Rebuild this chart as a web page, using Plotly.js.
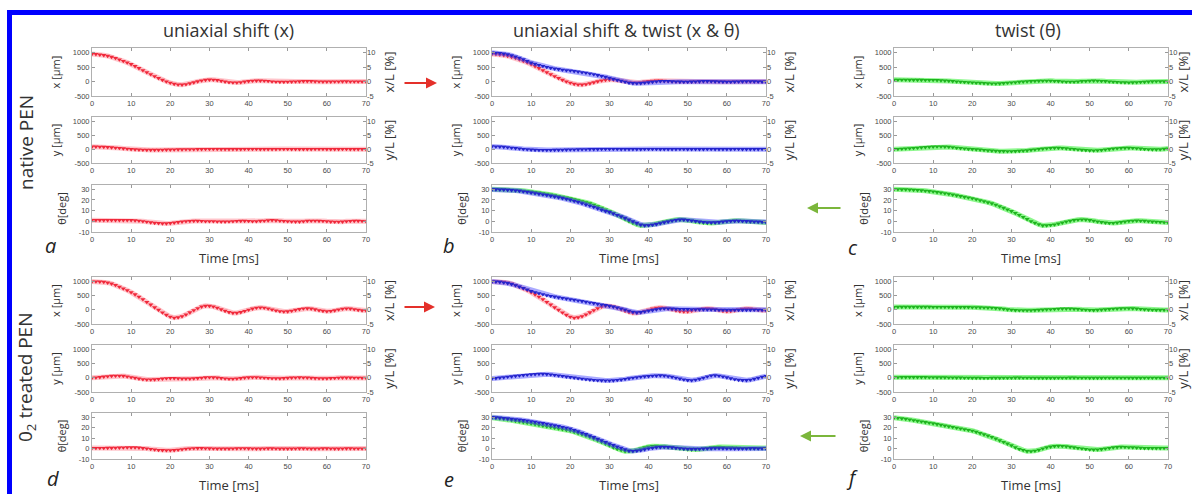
<!DOCTYPE html>
<html><head><meta charset="utf-8">
<script src="https://cdn.plot.ly/plotly-3.0.1.min.js"></script>
<style>html,body{margin:0;padding:0;background:#fff}#chart{width:1192px;height:494px}</style>
</head><body><div id="chart"></div>
<script>
// ---- data (time in ms, displacement in µm, angle in deg) ----
const timeMs = [0,1,2,3,4,5,6,7,8,9,10,11,12,13,14,15,16,17,18,19,20,21,22,23,24,25,26,27,28,29,30,31,32,33,34,35,36,37,38,39,40,41,42,43,44,45,46,47,48,49,50,51,52,53,54,55,56,57,58,59,60,61,62,63,64,65,66,67,68,69,70];

// native PEN, uniaxial shift (a)
const a_x = [950,945,930,910,885,850,810,760,710,655,600, 530,460,390,320,250,180,115,55,0,-45, -85,-105,-110,-95,-65,-30,5,35,55,65, 60,45,20,-5,-25,-35,-35,-25,-5,10, 25,30,30,25,15,0,-10,-15,-15,-10, -5,0,5,10,10,10,5,0,-5,-5, -5,0,0,5,5,0,0,0,0,0];
const a_y = [90,88,85,80,72,62,50,38,25,12,0, -10,-18,-24,-28,-30,-30,-28,-25,-22,-18, -15,-12,-10,-8,-6,-4,-2,0,2,3, 3,2,0,-2,-3,-3,-2,0,2,3, 3,2,0,-2,-3,-2,0,2,2,1, 0,-1,-2,-2,-1,0,1,2,1,0, -1,-1,0,1,1,0,0,-1,0,0];
const a_theta = [1,1,1,1,1,1,1,1,1,1,1, 0.8,0.5,0,-0.5,-1,-1.5,-1.8,-2,-2,-1.8, -1.3,-0.8,-0.3,0,0.2,0.3,0.3,0.2,0,0, 0,-0.2,-0.3,-0.3,-0.2,0,0.2,0.3,0.3,0.2, 0,0,0.3,0.5,0.8,1,0.8,0.5,0.2,0, -0.2,-0.3,-0.3,0,0.3,0.5,0.5,0.3,0.2,0, -0.3,-0.5,-0.5,-0.3,0,0.2,0.3,0.3,0.2,0];

// native PEN, shift & twist (b)
const b_x = [1000,995,985,965,940,905,865,820,770,710,650, 610,570,535,500,470,445,425,405,390,380, 360,340,320,300,275,250,220,190,160,125, 90,55,20,-10,-45,-55,-60,-55,-45,-30, -15,0,10,12,10,5,0,-5,-10,-10, -5,0,5,10,10,8,5,0,-5,-8, -8,-5,0,5,8,8,5,0,-3,-5];
const b_y = [100,95,88,78,65,50,35,20,5,-8,-20, -28,-33,-35,-35,-33,-30,-27,-24,-20,-17, -14,-11,-8,-5,-3,-1,0,1,2,2, 2,1,0,-1,-2,-2,-1,0,1,2, 2,1,0,-1,-2,-1,0,1,1,0, 0,-1,-1,0,1,1,0,-1,-1,0, 0,1,1,0,-1,-1,0,0,1,0];
const b_theta = [29.8,29.8,29.7,29.6,29.4,29.1,28.8,28.4,27.9,27.4,26.8, 26.2,25.6,25,24.4,23.7,23,22.3,21.6,20.8,20, 19,18,16.8,15.6,14.5,13.3,12,10.7,9.5,8.5, 7.2,5.9,4.6,3.2,1.5,0,-1.5,-3,-3.7,-3.7, -3.3,-2.7,-1.9,-1,-0.3,0.5,1.1,1.5,1.5,1.2, 0.7,0.2,-0.3,-0.7,-1,-1.1,-1,-0.8,-0.4,0, 0.2,0.3,0.3,0.2,0.1,0,-0.2,-0.4,-0.5,-0.6];

// native PEN, twist (c)
const c_x = [60,60,60,58,57,55,55,54,53,52,50, 45,38,30,20,10,0,-10,-20,-28,-35, -42,-50,-58,-65,-70,-70,-65,-55,-45,-35, -25,-15,-5,5,12,18,22,25,25,25, 18,10,0,-8,-10,-8,0,10,18,25, 28,25,18,10,0,-10,-20,-28,-33,-35, -33,-28,-20,-12,-5,2,6,6,4,0];
const c_y = [0,5,12,20,30,40,50,60,70,80,88, 92,92,88,78,65,50,35,20,8,0, -10,-22,-35,-48,-58,-66,-72,-76,-78,-78, -74,-67,-57,-45,-30,-14,2,18,30,40, 45,45,38,26,12,-2,-16,-30,-40,-48, -50,-44,-32,-16,0,15,30,40,45,44, 38,28,16,5,-4,-10,-10,-4,8,20];
const c_theta = [30,30,29.9,29.8,29.6,29.4,29.2,28.9,28.6,28.2,27.8, 27.3,26.8,26.2,25.6,24.9,24.2,23.5,22.8,22.2,21.5, 20.6,19.7,18.7,17.7,16.7,15.4,14,12.5,11,9.5, 7.7,5.9,4,2,0,-1.5,-2.8,-3.8,-3.8,-3.5, -3,-2.2,-1.3,-0.4,0.4,1,1.4,1.6,1.5,1.1, 0.5,-0.2,-0.8,-1.3,-1.6,-1.6,-1.3,-0.8,-0.3,0.2, 0.5,0.6,0.5,0.3,0,-0.3,-0.5,-0.7,-0.9,-1];

// O2 treated PEN, uniaxial shift (d)
const d_x = [1000,1000,995,985,960,925,875,815,750,690,620, 545,460,370,275,180,85,-5,-95,-180,-245, -280,-270,-230,-165,-90,-15,55,110,140,140, 115,70,15,-40,-85,-110,-110,-85,-45,0, 40,70,80,70,45,10,-25,-50,-60,-55, -35,-5,25,45,50,40,15,-15,-40,-50, -45,-20,10,35,45,40,20,-5,-20,-25];
const d_y = [0,10,25,40,55,65,70,72,65,45,20, -5,-30,-50,-60,-60,-55,-45,-30,-18,-10, -12,-20,-28,-32,-30,-22,-10,2,12,18, 15,5,-10,-25,-35,-35,-25,-10,5,15, 20,18,10,0,-8,-15,-20,-20,-12,-2, 5,10,12,10,5,-2,-10,-18,-22,-20, -14,-6,0,4,5,4,2,0,-2,-3];
const d_theta = [0.5,0.5,0.5,0.5,0.6,0.6,0.7,0.8,0.9,1,1, 1,0.8,0.4,0,-0.5,-1,-1.4,-1.6,-1.7,-1.7, -1.6,-1.2,-0.7,-0.3,0,0.2,0.3,0.3,0.2,0.1, 0,-0.1,-0.2,-0.2,-0.1,0,0.1,0.2,0.2,0.1, 0,-0.1,-0.1,0,0.1,0.1,0,-0.1,-0.2,-0.2, -0.1,0,0.1,0.1,0,-0.1,-0.1,0,0.1,0.1, 0,-0.1,-0.1,0,0.1,0.1,0,0,0,0];

// O2 treated PEN, shift & twist (e)
const e_x = [1000,995,985,965,940,905,865,820,770,715,660, 620,585,550,515,488,465,440,415,395,372, 350,328,305,280,256,235,210,185,165,140, 110,80,45,10,-35,-70,-93,-85,-60,-35, -10,15,35,45,46,40,32,26,23,22, 20,18,15,12,10,8,5,3,1,0, 0,0,-2,-3,-3,-2,0,1,1,0];
const e_y = [-20,-10,5,20,35,50,65,80,95,108,120, 130,138,138,130,115,98,80,62,42,24, 5,-15,-35,-52,-66,-78,-87,-93,-96,-95, -90,-80,-65,-45,-22,0,20,38,50,60, 70,78,83,75,55,30,0,-30,-60,-83, -88,-70,-40,0,45,80,83,70,45,15, -20,-50,-72,-83,-83,-70,-40,-5,30,60];
const e_theta = [30,29.8,29.5,29.2,28.8,28.4,28,27.6,27.1,26.6,26, 25.4,24.8,24.2,23.5,22.8,22.1,21.4,20.6,19.8,19, 17.7,16.4,15,13.7,12.3,10.8,9.3,7.8,6.2,4.7, 3.2,1.8,0.6,-0.8,-2,-2.4,-2.2,-1.7,-0.9,0, 0.5,1,1.3,1.4,1.3,1,0.6,0.2,-0.1,-0.3, -0.4,-0.4,-0.3,-0.2,0,0.1,0.2,0.2,0.1,0, 0,-0.1,-0.1,0,0,0.1,0.1,0,0,0];

// O2 treated PEN, twist (f)
const f_x = [100,102,103,104,104,104,103,102,102,101,100, 100,99,98,97,96,95,94,93,92,90, 88,86,82,77,70,60,48,33,15,0, -10,-15,-18,-18,-15,-10,-3,5,12,20, 28,35,40,42,40,33,22,10,0,-8, -10,-5,5,15,25,35,42,48,52,52, 48,40,28,15,5,0,-3,-5,-5,-3];
const f_y = [20,20,22,24,25,25,24,23,22,20,18, 16,14,12,10,8,6,4,2,0,-2, -4,-5,-6,-6,-5,-4,-2,0,2,3, 4,4,3,2,0,-2,-3,-4,-4,-3, -2,0,2,3,4,4,3,1,0,-2, -3,-3,-2,0,2,3,3,2,0,-2, -3,-3,-2,0,1,2,2,1,0,0];
const f_theta = [29.5,29.2,28.8,28.3,27.7,27,26.4,25.8,25.2,24.6,24, 23.3,22.6,21.9,21.2,20.5,19.8,19.1,18.4,17.7,17, 15.9,14.7,13.5,12.3,11,9.4,7.8,6.2,4.6,3, 1,-0.5,-1.5,-2.5,-2.6,-2.2,-1.3,0,1,1.8, 2.3,2.5,2.4,2,1.5,1,0.5,0,-0.5,-1, -1.1,-1,-0.6,0,0.5,1,1.3,1.5,1.4,1.2, 1,0.8,0.6,0.4,0.3,0.3,0.3,0.4,0.5,0.5];

// tick labels / texts
const timeTicks = [0,10,20,30,40,50,60,70];
const umTicks = [-500,0,500,1000];
const umTickText = ['-500','0','500','1000'];
const pctTicks = [-5,0,5,10];
const pctTickText = ['-5','0','5','10'];
const degTicks = [-10,0,10,20,30];
const degTickText = ['-10','0','10','20','30'];
const columnTitles = ['uniaxial shift (x)','uniaxial shift & twist (x & θ)','twist (θ)'];
const rowGroupLabels = ['native PEN','0<sub>2</sub> treated PEN'];
const panelLetters = ['a','b','c','d','e','f'];
const leftTitles = ['x [µm]','y [µm]','θ[deg]'];
const rightTitles = ['x/L [%]','y/L [%]'];

// ---- styling / geometry ----
const W = 1192, H = 494;
const colX = [[92,366],[492,766],[894,1168]];
const rowY = [[[48,96],[117,163],[185,232]],[[277,324],[345,392],[413,459]]];
const umRange = [-500,1160];
const degRange = [-10,34];
const STY = {
  red:   {halo:'rgba(255,100,115,0.38)', mk:'#f0283a'},
  blue:  {halo:'rgba(85,85,255,0.5)',    mk:'#2424cc'},
  green: {halo:'rgba(50,240,50,0.55)',   mk:'#1eb41e'}
};
const panels = [
  [[[a_x,'red']],[[a_y,'red']],[[a_theta,'red']]],
  [[[a_x,'red'],[b_x,'blue']],[[b_y,'blue']],[[c_theta,'green'],[b_theta,'blue']]],
  [[[c_x,'green']],[[c_y,'green']],[[c_theta,'green']]],
  [[[d_x,'red']],[[d_y,'red']],[[d_theta,'red']]],
  [[[d_x,'red'],[e_x,'blue']],[[e_y,'blue']],[[f_theta,'green'],[e_theta,'blue']]],
  [[[f_x,'green']],[[f_y,'green']],[[f_theta,'green']]]
];

const tickFont = {family:'Liberation Sans, Arial, sans-serif', size:7.5, color:'#4a4a4a'};
const titleFam = 'Open Sans, sans-serif';
const layout = {
  width:W, height:H, margin:{l:0,r:0,t:0,b:0},
  paper_bgcolor:'#fff', plot_bgcolor:'rgba(0,0,0,0)', showlegend:false,
  annotations:[], shapes:[]
};
const traces = [];
let k = 0, sec = 18;
panels.forEach((panel, p) => {
  const g = Math.floor(p/3), c = p%3;
  panel.forEach((rowSeries, r) => {
    k++;
    const xa = 'xaxis'+k, ya = 'yaxis'+k;
    const [x0,x1] = colX[c], [y0,y1] = rowY[g][r];
    layout[xa] = {
      domain:[x0/W, x1/W], anchor:'y'+k, range:[0,70], tickvals:timeTicks,
      ticks:'inside', ticklen:3, tickcolor:'#999', showline:true, linecolor:'#b0b0b0', linewidth:1,
      mirror:'ticks', showgrid:false, zeroline:false, tickfont:tickFont, fixedrange:true
    };
    if (r === 2) layout[xa].title = {text:'Time [ms]', font:{family:titleFam, size:13, color:'#333'}, standoff:10};
    const isDeg = r === 2;
    layout[ya] = {
      domain:[1-y1/H, 1-y0/H], anchor:'x'+k,
      range: isDeg ? degRange : umRange,
      tickvals: isDeg ? degTicks : umTicks, ticktext: isDeg ? degTickText : umTickText,
      ticks:'inside', ticklen:3, tickcolor:'#999', showline:true, linecolor:'#b0b0b0', linewidth:1,
      mirror:'ticks', showgrid:false, zeroline:false, tickfont:tickFont, fixedrange:true,
      title:{text:leftTitles[r], font:{family:titleFam, size:11, color:'#333'}, standoff:9}
    };
    if (!isDeg) {
      sec++;
      layout['yaxis'+sec] = {
        overlaying:'y'+k, side:'right', anchor:'x'+k,
        range:[umRange[0]/100, umRange[1]/100], tickvals:pctTicks, ticktext:pctTickText,
        ticks:'inside', ticklen:3, tickcolor:'#999', showline:false, showgrid:false, zeroline:false,
        tickfont:tickFont, fixedrange:true, visible:true,
        title:{text:rightTitles[r], font:{family:titleFam, size:13, color:'#333'}, standoff:10}
      };
      // empty trace so the secondary (percent) axis is created and drawn
      traces.push({x:[], y:[], xaxis:'x'+k, yaxis:'y'+sec, type:'scatter', mode:'markers', hoverinfo:'skip'});
    }
    rowSeries.forEach(([vals, col]) => {
      traces.push({
        x:timeMs, y:vals, xaxis:'x'+k, yaxis:'y'+k, type:'scatter', mode:'lines+markers',
        line:{color:STY[col].halo, width:5},
        marker:{symbol:'triangle-down', size:4.5, color:STY[col].mk, line:{width:0}},
        hoverinfo:'skip'
      });
    });
  });
});

// column titles
const colCenters = [228, 626, 1028];
columnTitles.forEach((t,i) => layout.annotations.push({
  text:t, x:colCenters[i]/W, y:1-30/H, xref:'paper', yref:'paper', showarrow:false,
  xanchor:'center', yanchor:'middle', font:{family:titleFam, size:18, color:'#333'}
}));
// row group labels
[[26,143],[26,378]].forEach(([px,py],i) => layout.annotations.push({
  text:rowGroupLabels[i], x:px/W, y:1-py/H, xref:'paper', yref:'paper', showarrow:false,
  textangle:-90, xanchor:'center', yanchor:'middle', font:{family:titleFam, size:19, color:'#333'}
}));
// panel letters
[[50,246],[449,246],[853,248],[53,478],[449,479],[852,477]].forEach(([px,py],i) => layout.annotations.push({
  text:'<i>'+panelLetters[i]+'</i>', x:px/W, y:1-py/H, xref:'paper', yref:'paper', showarrow:false,
  xanchor:'center', yanchor:'middle', font:{family:titleFam, size:20, color:'#222'}
}));
// arrows
[[437,83,-34,'#e4302a'],[435,307,-32,'#e4302a'],[807,208,35,'#7bb63b'],[800,436,37,'#7bb63b']].forEach(([hx,hy,dx,col]) => layout.annotations.push({
  text:'', x:hx/W, y:1-hy/H, xref:'paper', yref:'paper', showarrow:true,
  ax:dx, ay:0, arrowhead:2, arrowsize:1.1, arrowwidth:2, arrowcolor:col
}));
// blue frame (top and left edges)
layout.shapes.push({type:'rect', xref:'paper', yref:'paper', x0:7/W, x1:1, y0:1-15/H, y1:1-10/H, fillcolor:'#0000ff', line:{width:0}, layer:'above'});
layout.shapes.push({type:'rect', xref:'paper', yref:'paper', x0:7/W, x1:12/W, y0:0, y1:1-10/H, fillcolor:'#0000ff', line:{width:0}, layer:'above'});

Plotly.newPlot('chart', traces, layout, {staticPlot:true, displayModeBar:false});
</script></body></html>
